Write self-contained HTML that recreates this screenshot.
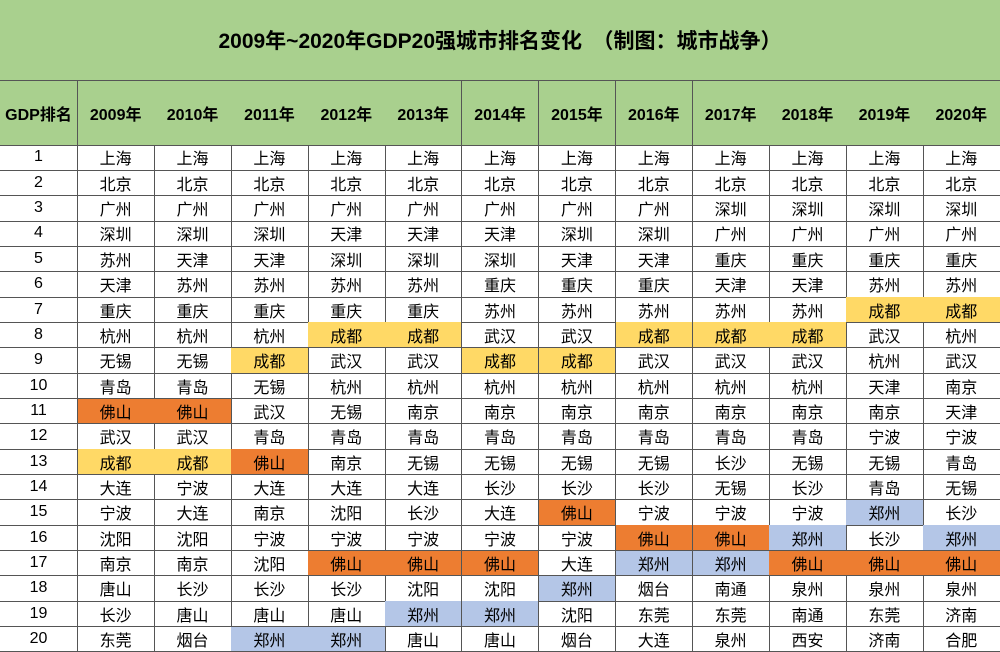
<!DOCTYPE html>
<html><head><meta charset="utf-8">
<style>
html,body{margin:0;padding:0;background:#fff;}
body{width:1000px;height:652px;overflow:hidden;position:relative;font-family:"Liberation Sans","Noto Sans CJK SC",sans-serif;}
.c{position:absolute;box-sizing:border-box;display:flex;align-items:center;justify-content:center;border-right:1px solid #555;border-bottom:1px solid #555;font-size:16px;color:#000;}
.h{font-weight:bold;background:#a9d08e;}
#title{position:absolute;left:0;top:0;width:1000px;height:81px;background:#a9d08e;border-bottom:1px solid #555;box-sizing:border-box;display:flex;align-items:center;justify-content:center;font-weight:bold;font-size:21px;}
</style></head>
<body>
<div id="title">2009年~2020年GDP20强城市排名变化　（制图：城市战争）</div>
<div id="grid"></div>
<script>
const years=["2009年","2010年","2011年","2012年","2013年","2014年","2015年","2016年","2017年","2018年","2019年","2020年"];
const ranks=[1,2,3,4,5,6,7,8,9,10,11,12,13,14,15,16,17,18,19,20];
const y2009="上海 北京 广州 深圳 苏州 天津 重庆 杭州 无锡 青岛 佛山 武汉 成都 大连 宁波 沈阳 南京 唐山 长沙 东莞".split(" ");
const y2010="上海 北京 广州 深圳 天津 苏州 重庆 杭州 无锡 青岛 佛山 武汉 成都 宁波 大连 沈阳 南京 长沙 唐山 烟台".split(" ");
const y2011="上海 北京 广州 深圳 天津 苏州 重庆 杭州 成都 无锡 武汉 青岛 佛山 大连 南京 宁波 沈阳 长沙 唐山 郑州".split(" ");
const y2012="上海 北京 广州 天津 深圳 苏州 重庆 成都 武汉 杭州 无锡 青岛 南京 大连 沈阳 宁波 佛山 长沙 唐山 郑州".split(" ");
const y2013="上海 北京 广州 天津 深圳 苏州 重庆 成都 武汉 杭州 南京 青岛 无锡 大连 长沙 宁波 佛山 沈阳 郑州 唐山".split(" ");
const y2014="上海 北京 广州 天津 深圳 重庆 苏州 武汉 成都 杭州 南京 青岛 无锡 长沙 大连 宁波 佛山 沈阳 郑州 唐山".split(" ");
const y2015="上海 北京 广州 深圳 天津 重庆 苏州 武汉 成都 杭州 南京 青岛 无锡 长沙 佛山 宁波 大连 郑州 沈阳 烟台".split(" ");
const y2016="上海 北京 广州 深圳 天津 重庆 苏州 成都 武汉 杭州 南京 青岛 无锡 长沙 宁波 佛山 郑州 烟台 东莞 大连".split(" ");
const y2017="上海 北京 深圳 广州 重庆 天津 苏州 成都 武汉 杭州 南京 青岛 长沙 无锡 宁波 佛山 郑州 南通 东莞 泉州".split(" ");
const y2018="上海 北京 深圳 广州 重庆 天津 苏州 成都 武汉 杭州 南京 青岛 无锡 长沙 宁波 郑州 佛山 泉州 南通 西安".split(" ");
const y2019="上海 北京 深圳 广州 重庆 苏州 成都 武汉 杭州 天津 南京 宁波 无锡 青岛 郑州 长沙 佛山 泉州 东莞 济南".split(" ");
const y2020="上海 北京 深圳 广州 重庆 苏州 成都 杭州 武汉 南京 天津 宁波 青岛 无锡 长沙 郑州 佛山 泉州 济南 合肥".split(" ");
const cols=[y2009,y2010,y2011,y2012,y2013,y2014,y2015,y2016,y2017,y2018,y2019,y2020];
const highlight={"成都":"#ffd966","佛山":"#ed7d31","郑州":"#b4c6e7"};

const g=document.getElementById('grid');
const top0=81,headH=64,rowTop=145,rowH=25.35,firstW=77.5,colW=(1000-77.5)/12;
function colX(i){return i<0?0:firstW+i*colW;}
function rowY(r){return rowTop+r*rowH;}
function cell(x,y,w,h,txt,cls,bg){
  const d=document.createElement('div');
  d.className='c'+(cls?' '+cls:'');
  d.style.left=x+'px';d.style.top=y+'px';d.style.width=(w+0.5)+'px';d.style.height=(h+0.5)+'px';
  if(bg)d.style.background=bg;
  d.textContent=txt;g.appendChild(d);return d;
}
let d=cell(0,top0,firstW,headH,"GDP排名","h");


years.forEach((y,i)=>{
  const e=cell(colX(i),top0,colW,headH,y,"h");
  
  
});
ranks.forEach((r,ri)=>{
  const e=cell(0,rowY(ri),firstW,rowH,String(r));
  
  
  cols.forEach((col,ci)=>{
    const city=col[ri];
    const c=cell(colX(ci),rowY(ri),colW,rowH,city,"",highlight[city]);
    
    
  });
});
</script>
</body></html>
